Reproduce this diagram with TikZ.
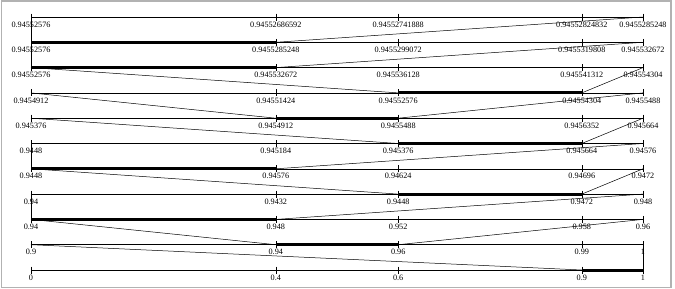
\documentclass[tikz,border=0pt]{standalone}
\usepackage{xcolor}
\usepackage{fontspec}
\setmainfont{Liberation Serif}
\usepackage{tikz}

\begin{document}
\begin{tikzpicture}[x=1pt, y=-1pt,
    intervalline/.style={line width=0.5pt},
    tickmark/.style={line width=0.5pt},
    chosen/.style={line width=3pt},
    zoomline/.style={line width=0.5pt},
    value/.style={font=\fontsize{8.2}{9}\selectfont, inner sep=0pt, anchor=north}
]
\useasboundingbox (0,0) rectangle (675,289);
\draw[gray!60, line width=1.5pt] (1.5,1) rectangle (671,287.5);

% the eleven intervals, the top one first
\foreach \k/\labs in {
    1/{0.94552576,0.94552686592,0.94552741888,0.94552824832,0.9455285248},
    2/{0.94552576,0.9455285248,0.9455299072,0.9455319808,0.945532672},
    3/{0.94552576,0.945532672,0.945536128,0.945541312,0.94554304},
    4/{0.9454912,0.94551424,0.94552576,0.94554304,0.9455488},
    5/{0.945376,0.9454912,0.9455488,0.9456352,0.945664},
    6/{0.9448,0.945184,0.945376,0.945664,0.94576},
    7/{0.9448,0.94576,0.94624,0.94696,0.9472},
    8/{0.94,0.9432,0.9448,0.9472,0.948},
    9/{0.94,0.948,0.952,0.958,0.96},
    10/{0.9,0.94,0.96,0.99,1},
    11/{0,0.4,0.6,0.9,1}}{
  \foreach \t [count=\j from 0] in {0,0.4,0.6,0.9,1}
    \coordinate (r\k-\j) at ({31+612*\t},{17+25.3*(\k-1)});
  \draw[intervalline] (r\k-0) -- (r\k-4);
  \foreach \v [count=\j from 0] in \labs {
    \draw[tickmark] ([yshift=3.5pt]r\k-\j) -- ([yshift=-3.5pt]r\k-\j);
    \node[value] (v\k-\j) at ([yshift=-4.5pt]r\k-\j) {\v};
  }
}

% chosen piece of each interval, widened into the one above
\foreach \k/\a/\b in {2/0/1, 3/0/1, 4/2/3, 5/1/2, 6/2/3, 7/0/1, 8/2/3, 9/0/1, 10/1/2, 11/3/4}{
  \pgfmathtruncatemacro{\up}{\k-1}
  \draw[chosen] (r\k-\a) -- (r\k-\b);
  \draw[zoomline] (r\k-\a) -- (r\up-0);
  \draw[zoomline] (r\k-\b) -- (r\up-4);
}
\end{tikzpicture}
\end{document}
